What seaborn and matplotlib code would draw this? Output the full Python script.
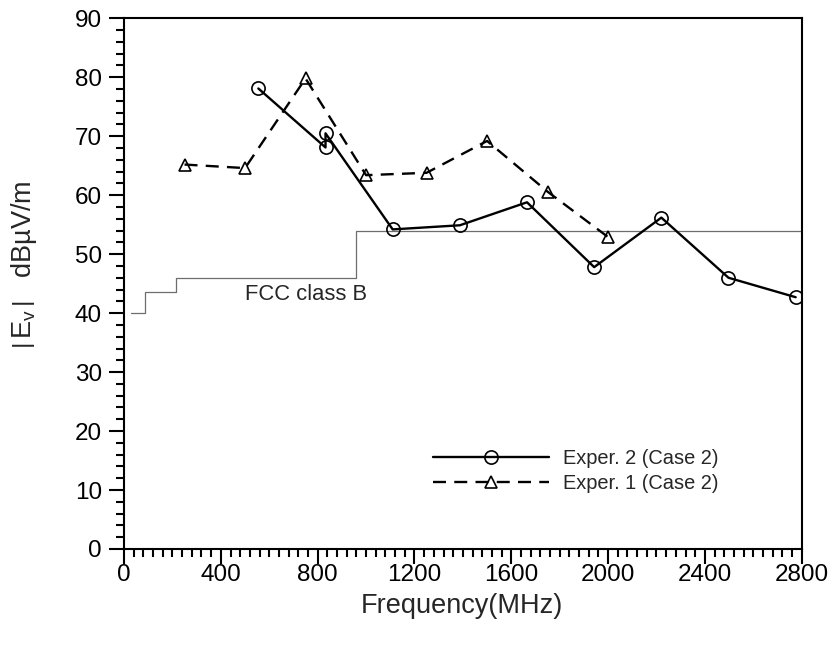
import matplotlib
matplotlib.use("Agg")
import matplotlib.pyplot as plt
from matplotlib.ticker import MultipleLocator
import seaborn as sns
import pandas as pd

# Measured field strength, experiment 2 (case 2)
exp2_freq = [555, 832.5, 832.5, 1110, 1387.5, 1665, 1942.5, 2220, 2497.5, 2775]
exp2_level = [78.1, 68.1, 70.5, 54.2, 54.9, 58.8, 47.8, 56.2, 46.0, 42.7]

# Measured field strength, experiment 1 (case 2)
exp1_freq = [250, 500, 750, 1000, 1250, 1500, 1750, 2000]
exp1_level = [65.2, 64.6, 79.8, 63.4, 63.8, 69.2, 60.6, 52.9]

# FCC class B radiated emission limit (step edges)
fcc_freq = [30, 88, 216, 960, 2800]
fcc_level = [40, 43.5, 46, 54, 54]

x_ticks = [0, 400, 800, 1200, 1600, 2000, 2400, 2800]
y_ticks = [0, 10, 20, 30, 40, 50, 60, 70, 80, 90]

sns.set_theme(style="ticks")
plt.rcParams["font.family"] = ["Liberation Sans", "DejaVu Sans"]
plt.rcParams["mathtext.fontset"] = "custom"
plt.rcParams["mathtext.rm"] = "Liberation Sans"
plt.rcParams["mathtext.it"] = "Liberation Sans:italic"

fig = plt.figure(figsize=(8.38, 6.52), dpi=100)
ax = fig.add_axes([0.148, 0.158, 0.8087, 0.8139])

df2 = pd.DataFrame({"freq": exp2_freq, "level": exp2_level})
df1 = pd.DataFrame({"freq": exp1_freq, "level": exp1_level})
dff = pd.DataFrame({"freq": fcc_freq, "level": fcc_level})

sns.lineplot(data=dff, x="freq", y="level", ax=ax, estimator=None, sort=False,
             color="#6e6e6e", linewidth=0.9, drawstyle="steps-post", legend=False)

sns.lineplot(data=df2, x="freq", y="level", ax=ax, estimator=None, sort=False,
             color="black", linewidth=1.7, marker="o", markersize=9.5,
             markerfacecolor="none", markeredgecolor="black", markeredgewidth=1.2,
             label="Exper. 2 (Case 2)")

sns.lineplot(data=df1, x="freq", y="level", ax=ax, estimator=None, sort=False,
             color="black", linewidth=1.7, linestyle=(0, (5.5, 3.5)), marker="^",
             markersize=8.5, markerfacecolor="none", markeredgecolor="black",
             markeredgewidth=1.2, label="Exper. 1 (Case 2)")

ax.text(500, 43.2, "FCC class B", ha="left", va="center", fontsize=15.8)

ax.set_xlim(0, 2800)
ax.set_ylim(0, 90)
ax.set_xticks(x_ticks)
ax.set_yticks(y_ticks)
ax.xaxis.set_minor_locator(MultipleLocator(40))
ax.yaxis.set_minor_locator(MultipleLocator(2))
ax.tick_params(axis="both", which="major", direction="out", length=11, width=1.5,
               labelsize=17.5, color="black", labelcolor="black")
ax.tick_params(axis="both", which="minor", direction="out", length=6, width=1.5,
               color="black")
ax.tick_params(axis="x", which="major", pad=0)
ax.tick_params(axis="y", which="major", pad=5)

for side in ["left", "right", "top", "bottom"]:
    ax.spines[side].set_visible(True)
    ax.spines[side].set_linewidth(1.5)
    ax.spines[side].set_color("black")

ax.set_xlabel("Frequency(MHz)", fontsize=19.5, va="center")
ax.xaxis.set_label_coords(0.499, -0.107)
ax.set_ylabel(r"$\left|\,\mathrm{E}_{\mathrm{v}}\,\right|$   dBµV/m", fontsize=19.5,
              va="center")
ax.yaxis.set_label_coords(-0.147, 0.535)

leg = ax.legend(loc="lower left", bbox_to_anchor=(0.43, 0.071), frameon=False,
                fontsize=14.4, handlelength=5.8, handletextpad=0.7, labelspacing=0.3,
                numpoints=1)

fig.savefig("out.png", dpi=100)
